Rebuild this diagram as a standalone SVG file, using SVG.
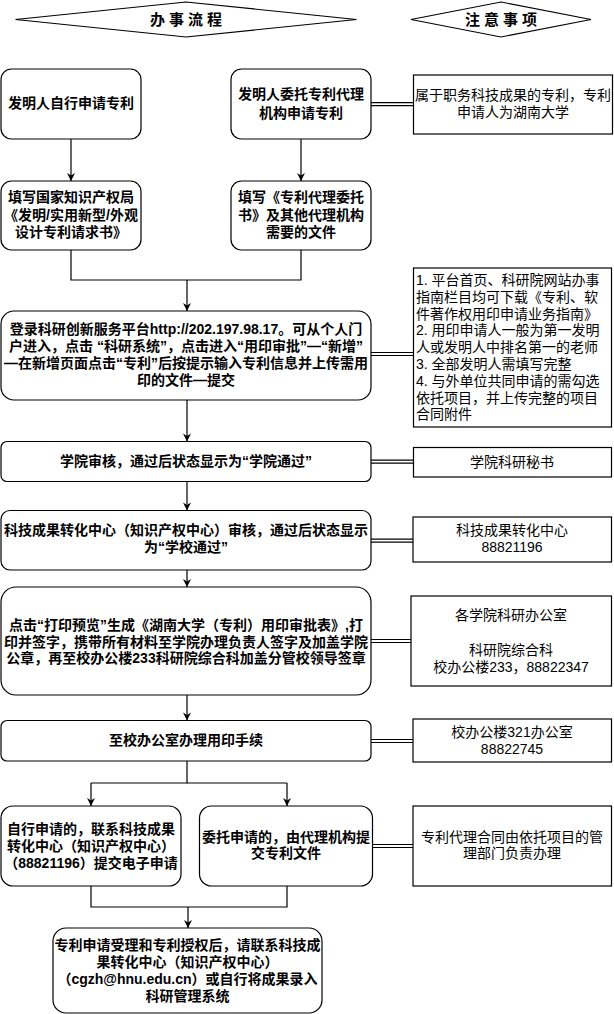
<svg xmlns="http://www.w3.org/2000/svg" width="614" height="1014" viewBox="0 0 614 1014">
<style>
.bg{fill:#fff}
.n{fill:#fff;stroke:#000;stroke-width:1.2}
.d{fill:#fff;stroke:#000;stroke-width:1.2}
.t{font-family:"Liberation Sans","Noto Sans CJK SC",sans-serif;font-size:14px;font-weight:bold;text-anchor:middle;fill:#000}
.tn{font-family:"Liberation Sans","Noto Sans CJK SC",sans-serif;font-size:14px;font-weight:normal;text-anchor:middle;fill:#000}
.tl{text-anchor:start}
.h{font-family:"Noto Sans CJK SC",sans-serif;font-size:15px;font-weight:bold;text-anchor:middle;letter-spacing:4px;fill:#000}
.c{fill:none;stroke:#000;stroke-width:1.2}
.a{fill:none;stroke:#000;stroke-width:1.2;marker-end:url(#arr)}
</style>
<defs>
<marker id="arr" markerUnits="userSpaceOnUse" viewBox="0 0 10 10" refX="10" refY="5" markerWidth="9" markerHeight="8" orient="auto">
<path d="M0,0 L10,5 L0,10 L3,5 z" fill="#000"/>
</marker>
</defs>
<rect class="bg" x="0" y="0" width="614" height="1014"/>

<g id="header-flow">
<polygon class="d" points="15.5,19.5 186,2 356.5,19.5 186,37"/>
<text class="h" x="188" y="25">办事流程</text>
</g>
<g id="header-notes">
<polygon class="d" points="411,19.5 501,2 591,19.5 501,37"/>
<text class="h" x="503" y="25">注意事项</text>
</g>

<g id="connectors">
<line class="a" x1="71" y1="139" x2="71" y2="181"/>
<line class="a" x1="301" y1="139" x2="301" y2="181"/>
<polyline class="c" points="71,250 71,280 301,280 301,250"/>
<line class="a" x1="187" y1="280" x2="187" y2="311"/>
<line class="a" x1="187" y1="400" x2="187" y2="441.5"/>
<line class="a" x1="187" y1="481.5" x2="187" y2="510.5"/>
<line class="a" x1="187" y1="570" x2="187" y2="587"/>
<line class="a" x1="187" y1="695" x2="187" y2="720.5"/>
<polyline class="c" points="187,761 187,783 91,783"/>
<line class="c" x1="187" y1="783" x2="287" y2="783"/>
<line class="a" x1="91" y1="783" x2="91" y2="806"/>
<line class="a" x1="287" y1="783" x2="287" y2="806"/>
<polyline class="c" points="91,886 91,907 287,907 287,886"/>
<line class="a" x1="188" y1="907" x2="188" y2="928"/>
<!-- double links to notes -->
<line class="c" x1="371" y1="102.7" x2="413.5" y2="102.7"/>
<line class="c" x1="371" y1="105.7" x2="413.5" y2="105.7"/>
<line class="c" x1="371" y1="352.5" x2="413.5" y2="352.5"/>
<line class="c" x1="371" y1="355.5" x2="413.5" y2="355.5"/>
<line class="c" x1="371" y1="460.2" x2="413.5" y2="460.2"/>
<line class="c" x1="371" y1="463.2" x2="413.5" y2="463.2"/>
<line class="c" x1="371" y1="539.2" x2="413" y2="539.2"/>
<line class="c" x1="371" y1="542.2" x2="413" y2="542.2"/>
<line class="c" x1="371" y1="639.5" x2="411" y2="639.5"/>
<line class="c" x1="371" y1="642.5" x2="411" y2="642.5"/>
<line class="c" x1="371" y1="739.5" x2="413" y2="739.5"/>
<line class="c" x1="371" y1="742.5" x2="413" y2="742.5"/>
<line class="c" x1="372.5" y1="844.5" x2="413" y2="844.5"/>
<line class="c" x1="372.5" y1="847.5" x2="413" y2="847.5"/>
</g>

<g id="node-a">
<rect class="n" x="1" y="69" width="140" height="70" rx="10.5"/>
<text class="t" x="71" y="108">发明人自行申请专利</text>
</g>
<g id="node-b">
<rect class="n" x="231" y="69" width="140" height="70" rx="10.5"/>
<text class="t"><tspan x="301" y="99">发明人委托专利代理</tspan><tspan x="301" y="118">机构申请专利</tspan></text>
</g>
<g id="note-1">
<rect class="n" x="413.5" y="75" width="199" height="59"/>
<text class="tn"><tspan x="513" y="100">属于职务科技成果的专利，专利</tspan><tspan x="513" y="117">申请人为湖南大学</tspan></text>
</g>
<g id="node-c">
<rect class="n" x="1" y="181" width="140" height="69" rx="10.5"/>
<text class="t"><tspan x="71" y="202">填写国家知识产权局</tspan><tspan x="71" y="219.5">《发明/实用新型/外观</tspan><tspan x="71" y="237">设计专利请求书》</tspan></text>
</g>
<g id="node-d">
<rect class="n" x="231" y="181" width="140" height="69" rx="10.5"/>
<text class="t"><tspan x="301" y="202">填写《专利代理委托</tspan><tspan x="301" y="219.5">书》及其他代理机构</tspan><tspan x="301" y="237">需要的文件</tspan></text>
</g>
<g id="node-e">
<rect class="n" x="1" y="311" width="370" height="89" rx="13"/>
<text class="t"><tspan x="186" y="334">登录科研创新服务平台http://202.197.98.17。可从个人门</tspan><tspan x="186" y="351">户进入，点击 “科研系统”，点击进入“用印审批”—“新增”</tspan><tspan x="186" y="368">—在新增页面点击“专利”后按提示输入专利信息并上传需用</tspan><tspan x="186" y="385">印的文件—提交</tspan></text>
</g>
<g id="note-2">
<rect class="n" x="413.5" y="268" width="198" height="159"/>
<text class="tn tl"><tspan x="416" y="285">1. 平台首页、科研院网站办事</tspan><tspan x="416" y="301.8">指南栏目均可下载《专利、软</tspan><tspan x="416" y="318.6">件著作权用印申请业务指南》</tspan><tspan x="416" y="335.4">2. 用印申请人一般为第一发明</tspan><tspan x="416" y="352.2">人或发明人中排名第一的老师</tspan><tspan x="416" y="369">3. 全部发明人需填写完整</tspan><tspan x="416" y="385.8">4. 与外单位共同申请的需勾选</tspan><tspan x="416" y="402.6">依托项目，并上传完整的项目</tspan><tspan x="416" y="419.4">合同附件</tspan></text>
</g>
<g id="node-f">
<rect class="n" x="1" y="441.5" width="370" height="40" rx="6"/>
<text class="t" x="186" y="466">学院审核，通过后状态显示为“学院通过”</text>
</g>
<g id="note-3">
<rect class="n" x="413.5" y="447.5" width="198" height="29.5"/>
<text class="tn" x="512" y="467">学院科研秘书</text>
</g>
<g id="node-g">
<rect class="n" x="1" y="510.5" width="370" height="59.5" rx="9"/>
<text class="t"><tspan x="186" y="535">科技成果转化中心（知识产权中心）审核，通过后状态显示</tspan><tspan x="186" y="552">为“学校通过”</tspan></text>
</g>
<g id="note-4">
<rect class="n" x="413" y="517" width="198.5" height="45"/>
<text class="tn"><tspan x="512" y="535">科技成果转化中心</tspan><tspan x="512" y="552">88821196</tspan></text>
</g>
<g id="node-h">
<rect class="n" x="1" y="587" width="370" height="108" rx="15"/>
<text class="t"><tspan x="186" y="630">点击“打印预览”生成《湖南大学（专利）用印审批表》,打</tspan><tspan x="186" y="646.7">印并签字，携带所有材料至学院办理负责人签字及加盖学院</tspan><tspan x="186" y="663.3">公章，再至校办公楼233科研院综合科加盖分管校领导签章</tspan></text>
</g>
<g id="note-5">
<rect class="n" x="411" y="596" width="200.5" height="90"/>
<text class="tn"><tspan x="511" y="620">各学院科研办公室</tspan><tspan x="511" y="655">科研院综合科</tspan><tspan x="511" y="672">校办公楼233，88822347</tspan></text>
</g>
<g id="node-i">
<rect class="n" x="1" y="720.5" width="370" height="40.5" rx="6"/>
<text class="t" x="186" y="745">至校办公室办理用印手续</text>
</g>
<g id="note-6">
<rect class="n" x="413" y="719" width="198.5" height="43"/>
<text class="tn"><tspan x="512" y="737">校办公楼321办公室</tspan><tspan x="512" y="754">88822745</tspan></text>
</g>
<g id="node-j">
<rect class="n" x="1" y="806" width="180" height="80" rx="12"/>
<text class="t"><tspan x="91" y="834">自行申请的，联系科技成果</tspan><tspan x="91" y="851">转化中心（知识产权中心）</tspan><tspan x="91" y="868">（88821196）提交电子申请</tspan></text>
</g>
<g id="node-k">
<rect class="n" x="199.5" y="806" width="173" height="80" rx="12"/>
<text class="t"><tspan x="286" y="842">委托申请的，由代理机构提</tspan><tspan x="286" y="858">交专利文件</tspan></text>
</g>
<g id="note-7">
<rect class="n" x="413" y="806" width="198.5" height="80"/>
<text class="tn"><tspan x="512" y="842">专利代理合同由依托项目的管</tspan><tspan x="512" y="858">理部门负责办理</tspan></text>
</g>
<g id="node-l">
<rect class="n" x="53" y="928" width="269" height="85" rx="13"/>
<text class="t"><tspan x="187.5" y="950">专利申请受理和专利授权后，请联系科技成</tspan><tspan x="187.5" y="966.7">果转化中心（知识产权中心）</tspan><tspan x="187.5" y="984.3">（cgzh@hnu.edu.cn）或自行将成果录入</tspan><tspan x="187.5" y="1001">科研管理系统</tspan></text>
</g>
</svg>
